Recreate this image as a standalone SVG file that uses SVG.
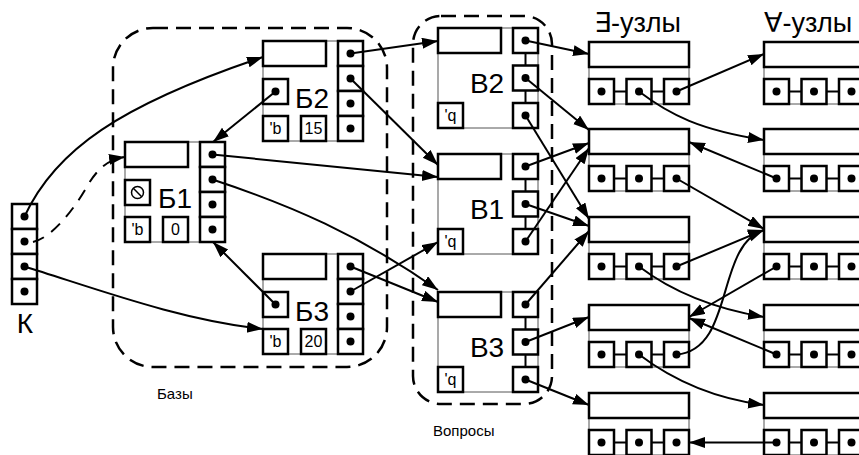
<svg xmlns="http://www.w3.org/2000/svg" xmlns:xlink="http://www.w3.org/1999/xlink" width="859" height="455" viewBox="0 0 859 455">
<style>
.frame{fill:none;stroke:#555;stroke-width:1}
.box{fill:#fff;stroke:#000;stroke-width:2.5}
.dot{fill:#000}
.link{stroke:#000;stroke-width:2}
.conn{fill:none;stroke:#000;stroke-width:2;marker-end:url(#ah)}
.dash{fill:none;stroke:#000;stroke-width:2;stroke-dasharray:12 9;marker-end:url(#ah)}
.region{fill:none;stroke:#000;stroke-width:2.5;stroke-dasharray:15 8}
.big{font-family:"Liberation Sans",Arial,sans-serif;font-size:28px;text-anchor:middle}
.small{font-family:"Liberation Sans",Arial,sans-serif;font-size:15px}
.val{font-family:"Liberation Sans",Arial,sans-serif;font-size:16px;text-anchor:middle}
.title{font-family:"Liberation Sans","DejaVu Sans",sans-serif;font-size:27px}
</style>
<defs>
<marker id="ah" markerUnits="userSpaceOnUse" markerWidth="18" markerHeight="12" refX="16" refY="5.5" orient="auto">
<path d="M0,0 L16,5.5 L0,11 z" fill="#000"/>
</marker>
<g id="bTpl">
<rect class="frame" x="0" y="0" width="100" height="100"/>
<rect class="box" x="0" y="0" width="63" height="25"/>
<rect class="box" x="75" y="0" width="25" height="25"/>
<rect class="box" x="75" y="25" width="25" height="25"/>
<rect class="box" x="75" y="50" width="25" height="25"/>
<rect class="box" x="75" y="75" width="25" height="25"/>
<circle class="dot" cx="87.5" cy="12.5" r="4"/>
<circle class="dot" cx="87.5" cy="37.5" r="4"/>
<circle class="dot" cx="87.5" cy="62.5" r="4"/>
<circle class="dot" cx="87.5" cy="87.5" r="4"/>
<rect class="box" x="0" y="38" width="25" height="25"/>
<rect class="box" x="0" y="75" width="25" height="25"/>
<rect class="box" x="38" y="75" width="25" height="25"/>
<text class="val" x="12.5" y="93">'b</text>
</g>
<g id="vTpl">
<rect class="frame" x="0" y="0" width="100" height="100"/>
<line class="link" x1="87.5" y1="25" x2="87.5" y2="75"/>
<rect class="box" x="0" y="0" width="63" height="25"/>
<rect class="box" x="75" y="0" width="25" height="25"/>
<rect class="box" x="75" y="37.5" width="25" height="25"/>
<rect class="box" x="75" y="75" width="25" height="25"/>
<circle class="dot" cx="87.5" cy="12.5" r="4"/>
<circle class="dot" cx="87.5" cy="50" r="4"/>
<circle class="dot" cx="87.5" cy="87.5" r="4"/>
<rect class="box" x="0" y="75" width="25" height="25"/>
<text class="val" x="12.5" y="93">'q</text>
</g>
<g id="nTpl">
<rect class="frame" x="0" y="0" width="100" height="62"/>
<line class="link" x1="12.5" y1="49.5" x2="87.5" y2="49.5"/>
<rect class="box" x="0" y="0" width="100" height="25"/>
<rect class="box" x="0" y="37" width="25" height="25"/>
<rect class="box" x="37.5" y="37" width="25" height="25"/>
<rect class="box" x="75" y="37" width="25" height="25"/>
<circle class="dot" cx="12.5" cy="49.5" r="4"/>
<circle class="dot" cx="50" cy="49.5" r="4"/>
<circle class="dot" cx="87.5" cy="49.5" r="4"/>
</g>
</defs>
<rect fill="#fff" x="0" y="0" width="859" height="455"/>

<g id="regions">
<rect class="region" x="113" y="28" width="274" height="339" rx="40" ry="40"/>
<rect class="region" x="413" y="16" width="139" height="388" rx="28" ry="28"/>
<text class="small" x="157" y="399">Базы</text>
<text class="small" x="433" y="436">Вопросы</text>
</g>

<g id="titles">
<text class="title" x="594" y="32">∃-узлы</text>
<text class="title" x="764" y="32">∀-узлы</text>
</g>

<g id="K">
<rect class="box" x="12" y="204" width="25" height="25"/>
<rect class="box" x="12" y="229" width="25" height="25"/>
<rect class="box" x="12" y="254" width="25" height="25"/>
<rect class="box" x="12" y="279" width="25" height="25"/>
<circle class="dot" cx="24.5" cy="216.5" r="4"/>
<circle class="dot" cx="24.5" cy="241.5" r="4"/>
<circle class="dot" cx="24.5" cy="266.5" r="4"/>
<circle class="dot" cx="24.5" cy="291.5" r="4"/>
<text class="big" x="25" y="333">К</text>
</g>

<g id="B1" transform="translate(125,142)">
<use xlink:href="#bTpl"/>
<circle cx="12.5" cy="50.5" r="6" fill="none" stroke="#000" stroke-width="1.5"/>
<line x1="8.3" y1="46.3" x2="16.7" y2="54.7" stroke="#000" stroke-width="1.5"/>
<text class="val" x="50.5" y="93">0</text>
<text class="big" x="50" y="66">Б1</text>
</g>
<g id="B2" transform="translate(263,41)">
<use xlink:href="#bTpl"/>
<circle class="dot" cx="12.5" cy="50.5" r="4"/>
<text class="val" x="50.5" y="93">15</text>
<text class="big" x="49" y="67">Б2</text>
</g>
<g id="B3" transform="translate(263,254)">
<use xlink:href="#bTpl"/>
<circle class="dot" cx="12.5" cy="50.5" r="4"/>
<text class="val" x="50.5" y="93">20</text>
<text class="big" x="49" y="67">Б3</text>
</g>

<g id="V2" transform="translate(438,28)">
<use xlink:href="#vTpl"/>
<text class="big" x="49" y="65">В2</text>
</g>
<g id="V1" transform="translate(438,154)">
<use xlink:href="#vTpl"/>
<text class="big" x="49" y="65">В1</text>
</g>
<g id="V3" transform="translate(438,292)">
<use xlink:href="#vTpl"/>
<text class="big" x="49" y="65">В3</text>
</g>

<g id="E1" transform="translate(589,42)"><use xlink:href="#nTpl"/></g>
<g id="E2" transform="translate(589,129)"><use xlink:href="#nTpl"/></g>
<g id="E3" transform="translate(589,217)"><use xlink:href="#nTpl"/></g>
<g id="E4" transform="translate(589,305)"><use xlink:href="#nTpl"/></g>
<g id="E5" transform="translate(589,393)"><use xlink:href="#nTpl"/></g>
<g id="A1" transform="translate(764,42)"><use xlink:href="#nTpl"/></g>
<g id="A2" transform="translate(764,129)"><use xlink:href="#nTpl"/></g>
<g id="A3" transform="translate(764,217)"><use xlink:href="#nTpl"/></g>
<g id="A4" transform="translate(764,305)"><use xlink:href="#nTpl"/></g>
<g id="A5" transform="translate(764,393)"><use xlink:href="#nTpl"/></g>

<g id="connectors">
<path class="conn" d="M24.5,216.5 C55,150 120,105 263,57"/>
<path class="dash" d="M33,242 C50,238 70,215 85,190 C95,172 105,160 125,157"/>
<path class="conn" d="M24.5,266.5 C100,290 180,320 263,329"/>
<path class="conn" d="M275.5,91.5 L213,142"/>
<path class="conn" d="M275.5,304.5 L213,242"/>
<path class="conn" d="M212.5,154.5 L438,177"/>
<path class="conn" d="M212.5,179.5 C290,205 360,235 438,290"/>
<path class="conn" d="M350.5,266.5 L438,302"/>
<path class="conn" d="M350.5,291.5 L438,242"/>
<path class="conn" d="M350.5,53.5 L438,41"/>
<path class="conn" d="M350.5,78.5 L438,165"/>
<path class="conn" d="M525.5,40.5 L589,54"/>
<path class="conn" d="M525.5,78 L589,130"/>
<path class="conn" d="M525.5,115.5 L589,219"/>
<path class="conn" d="M525.5,166.5 L589,143"/>
<path class="conn" d="M525.5,204 L589,226"/>
<path class="conn" d="M525.5,241.5 L589,148"/>
<path class="conn" d="M525.5,304.5 L589,231"/>
<path class="conn" d="M525.5,342 L589,317"/>
<path class="conn" d="M525.5,379.5 L589,405"/>
<path class="conn" d="M676.5,91.5 L764,54"/>
<path class="conn" d="M639,91.5 C670,115 700,130 764,140"/>
<path class="conn" d="M776.5,178.5 L689,142"/>
<path class="conn" d="M676.5,178.5 L764,229"/>
<path class="conn" d="M676.5,266.5 L764,230"/>
<path class="conn" d="M639,266.5 C670,290 710,308 764,317"/>
<path class="conn" d="M776.5,266.5 L689,317"/>
<path class="conn" d="M776.5,354.5 L689,318"/>
<path class="conn" d="M676.5,354.5 C735,350 715,245 764,230"/>
<path class="conn" d="M639,354.5 C670,378 710,398 764,405"/>
<path class="conn" d="M776.5,442.5 L689,442.5"/>
</g>
</svg>
